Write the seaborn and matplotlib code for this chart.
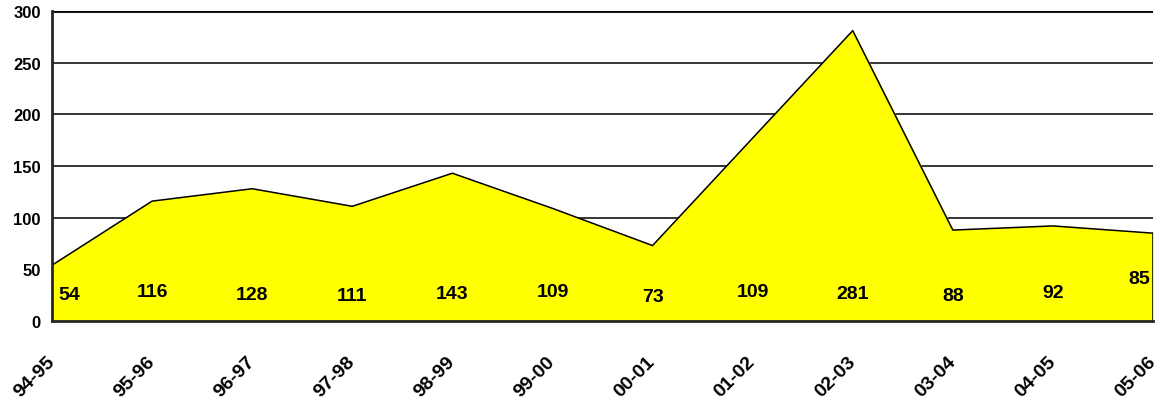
import numpy as np
import pandas as pd
import matplotlib
matplotlib.use("Agg")
import matplotlib.pyplot as plt
import seaborn as sns

# data
seasons = ['94-95', '95-96', '96-97', '97-98', '98-99', '99-00',
           '00-01', '01-02', '02-03', '03-04', '04-05', '05-06']
plotted = [54, 116, 128, 111, 143, 109, 73, 177, 281, 88, 92, 85]
label_text = ['54', '116', '128', '111', '143', '109',
              '73', '109', '281', '88', '92', '85']
label_y = [26, 29, 26, 24.5, 27, 29, 23.5, 29, 27, 24.5, 28, 41.5]

sns.set_style("white")
plt.rcParams['font.family'] = ['Liberation Sans', 'DejaVu Sans']
plt.rcParams['font.weight'] = 'bold'
plt.rcParams['text.color'] = 'black'

df = pd.DataFrame({'season': seasons, 'value': plotted})
x = np.arange(len(seasons))

fig = plt.figure(figsize=(11.6, 4.02), dpi=100)
ax = fig.add_axes([52 / 1160, 1 - 322 / 402, 1101 / 1160, 310 / 402])

# gridlines
for g in [50, 100, 150, 200, 250]:
    ax.axhline(g, color='black', lw=1.1, zorder=0)
ax.axhline(300, color='black', lw=2, zorder=0)

ax.fill_between(x, 0, df['value'], color='#FFFF00', zorder=1)
sns.lineplot(x=x, y=df['value'], color='black', lw=1.1, ax=ax, zorder=2)
ax.plot([x[-1], x[-1]], [0, plotted[-1]], color='black', lw=1.1, zorder=2)

# data labels
for i, (t, yy) in enumerate(zip(label_text, label_y)):
    xo = i
    ha = 'center'
    if i == 0:
        xo, ha = i + 0.06, 'left'
    elif i == len(seasons) - 1:
        xo, ha = i - 0.03, 'right'
    ax.text(xo, yy, t, ha=ha, va='center', fontsize=14, fontweight='bold',
            color='black', zorder=3)

ax.set_xlim(0, len(seasons) - 1)
ax.set_ylim(0, 300)
ax.set_yticks(range(0, 301, 50))
ax.set_xticks(x)
ax.set_xticklabels(seasons, rotation=45, ha='right', va='center', rotation_mode='anchor')
ax.tick_params(axis='both', colors='black', width=1.5)
ax.tick_params(axis='y', length=5, pad=3, labelsize=12)
ax.tick_params(axis='x', length=7, pad=20, labelsize=14)
for lab in ax.get_xticklabels() + ax.get_yticklabels():
    lab.set_fontweight('bold')

ax.spines['top'].set_visible(False)
ax.spines['right'].set_visible(False)
ax.spines['left'].set_linewidth(2)
ax.spines['bottom'].set_linewidth(2)
ax.set_xlabel('')
ax.set_ylabel('')

fig.savefig('out.png', dpi=100)
